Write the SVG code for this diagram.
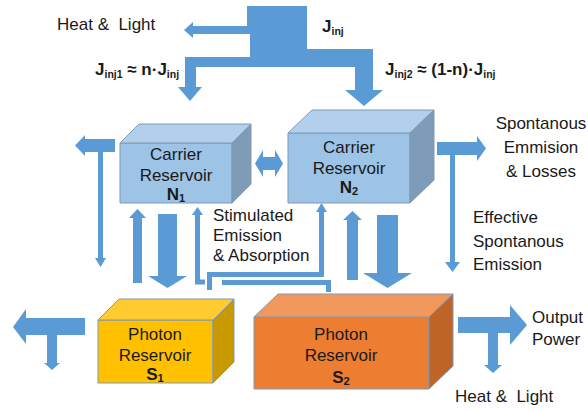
<svg xmlns="http://www.w3.org/2000/svg" width="588" height="410" viewBox="0 0 588 410">
<style>
text{font-family:"Liberation Sans",Arial,sans-serif;font-size:17px;fill:#1a1a1a;white-space:pre}
.b{font-weight:bold}
.c{text-anchor:middle}
.arr{fill:#5B9BD5}
.ln{fill:none;stroke:#5B9BD5;stroke-width:5}
.edge{stroke:#7F99B3;stroke-width:1;stroke-linejoin:round}
.nf{fill:#9DC3E6}.nt{fill:#B2D0EC}.nr{fill:#7E9CB8}
.s1f{fill:#FFC000}.s1t{fill:#FFCB2E}.s1r{fill:#C99A00}
.s2f{fill:#ED7D31}.s2t{fill:#F1995C}.s2r{fill:#BE6427}
</style>
<rect width="588" height="410" fill="#ffffff"/>

<g id="connectors">
  <!-- injection current split -->
  <path class="arr" d="M247,6 H307 V49 H373 V90 H383 L364,106 L345,90 H355 V67 H196 V87 H202 L190,101 L178,87 H185 V57 H250 V34 H193 V38 L184,30 L193,22 V26 H247 Z"/>
  <!-- left T arrow near N1 -->
  <path class="arr" d="M115,139 V152 H103 V258 H106 L100.5,267 L95,258 H98 V152 H85 V156 L75,145.5 L85,135 V139 Z"/>
  <!-- N1 <-> N2 -->
  <polygon class="arr" points="255,163.5 263,150 263,157 275,157 275,150 283,163.5 275,177 275,170 263,170 263,177"/>
  <!-- S1 -> N1 up -->
  <polygon class="arr" points="133,283 133,218 129,218 137.5,209 146,218 142,218 142,283"/>
  <!-- N1 -> S1 down -->
  <polygon class="arr" points="158,214 177,214 177,276 187,276 167.5,288 148,276 158,276"/>
  <!-- S2 -> N2 up -->
  <polygon class="arr" points="347,280 347,220 343,220 352.5,211 362,220 358,220 358,280"/>
  <!-- N2 -> S2 down -->
  <polygon class="arr" points="377,215 398,215 398,273 412,273 387.5,288 363,273 377,273"/>
  <!-- stimulated emission connectors -->
  <path class="ln" d="M197.5,214 V282 H205"/>
  <path class="ln" d="M222,282.5 H328.5 V292"/>
  <polygon class="arr" points="192,215 197.5,207 203,215"/>
  <path class="ln" d="M209.5,290 V274.5 H321.5 V211"/>
  <polygon class="arr" points="316,212 321.5,203 327,212"/>
  <!-- N2 spontaneous emission -->
  <path class="arr" d="M437,142 H477 V136 L486,148.5 L477,161 V155 H455 V262 H460 L452.5,272 L445,262 H450 V155 H437 Z"/>
  <!-- S1 output -->
  <path class="arr" d="M85,318 V335 H57 V363 H60 L52,370 L44,363 H47 V335 H26 V344 L13,327 L26,309 V318 Z"/>
  <!-- S2 output -->
  <path class="arr" d="M458,317 H510 V305 L527,325 L510,345 V333 H498 V365 H502 L493,373 L484,365 H488 V333 H458 Z"/>
</g>

<g id="N1">
  <polygon class="nf edge" points="120,143 232,143 232,203 120,203"/>
  <polygon class="nt edge" points="120,143 139,124 251,124 232,143"/>
  <polygon class="nr edge" points="232,143 251,124 251,184 232,203"/>
  <text class="c" x="176" y="160">Carrier</text>
  <text class="c" x="176" y="181">Reservoir</text>
  <text class="c b" x="176" y="200">N<tspan font-size="11" dy="2">1</tspan></text>
</g>

<g id="N2">
  <polygon class="nf edge" points="288,133 410,133 410,203 288,203"/>
  <polygon class="nt edge" points="288,133 312,110 434,110 410,133"/>
  <polygon class="nr edge" points="410,133 434,110 434,180 410,203"/>
  <text class="c" x="349" y="153">Carrier</text>
  <text class="c" x="349" y="174">Reservoir</text>
  <text class="c b" x="349" y="193">N<tspan font-size="11" dy="2">2</tspan></text>
</g>

<g id="S1">
  <polygon class="s1f edge" points="98,320 213,320 213,383 98,383"/>
  <polygon class="s1t edge" points="98,320 119,299 234,299 213,320"/>
  <polygon class="s1r edge" points="213,320 234,299 234,362 213,383"/>
  <text class="c" x="155" y="340">Photon</text>
  <text class="c" x="155" y="361">Reservoir</text>
  <text class="c b" x="155" y="380">S<tspan font-size="11" dy="2">1</tspan></text>
</g>

<g id="S2">
  <polygon class="s2f edge" points="254,317 429,317 429,389 254,389"/>
  <polygon class="s2t edge" points="254,317 278,294 453,294 429,317"/>
  <polygon class="s2r edge" points="429,317 453,294 453,366 429,389"/>
  <text class="c" x="341" y="340">Photon</text>
  <text class="c" x="341" y="361">Reservoir</text>
  <text class="c b" x="341" y="383">S<tspan font-size="11" dy="2">2</tspan></text>
</g>

<g id="labels">
  <text x="57" y="30">Heat &amp;  Light</text>
  <text class="b" x="322" y="32" font-size="16">J<tspan font-size="10.5" dy="3">inj</tspan></text>
  <text class="b" x="95" y="75" font-size="16">J<tspan font-size="10.5" dy="3">inj1</tspan><tspan dy="-3"> ≈ n·J</tspan><tspan font-size="10.5" dy="3">inj</tspan></text>
  <text class="b" x="385" y="75" font-size="16">J<tspan font-size="10.5" dy="3">inj2</tspan><tspan dy="-3"> ≈ (1-n)·J</tspan><tspan font-size="10.5" dy="3">inj</tspan></text>
  <text class="c" x="541" y="129">Spontanous</text>
  <text class="c" x="541" y="153">Emmision</text>
  <text class="c" x="541" y="177">&amp; Losses</text>
  <text x="473" y="223">Effective</text>
  <text x="473" y="247">Spontanous</text>
  <text x="473" y="270">Emission</text>
  <text x="213" y="221">Stimulated</text>
  <text x="213" y="241">Emission</text>
  <text x="213" y="261">&amp; Absorption</text>
  <text x="532" y="323">Output</text>
  <text x="532" y="345">Power</text>
  <text x="455" y="402">Heat &amp;  Light</text>
</g>
</svg>
